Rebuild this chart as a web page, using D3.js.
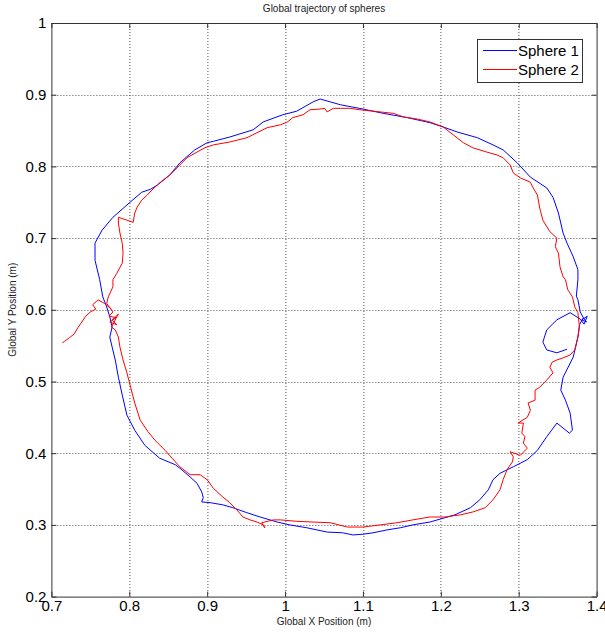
<!DOCTYPE html>
<html>
<head>
<meta charset="utf-8">
<script src="https://d3js.org/d3.v7.min.js"></script>
<style>
body { margin: 0; background: #fff; }
.axis text { font-family: Arial, "Liberation Sans", sans-serif; font-size: 15px; fill: #000; }
.axis path, .axis line { stroke: #333; }
</style>
</head>
<body>
<div id="chart-area"></div>
<script>
// tick values / labels
var xTicks = [0.7, 0.8, 0.9, 1.0, 1.1, 1.2, 1.3, 1.4];
var xTickLabels = ["0.7", "0.8", "0.9", "1", "1.1", "1.2", "1.3", "1.4"];
var yTicks = [0.2, 0.3, 0.4, 0.5, 0.6, 0.7, 0.8, 0.9, 1.0];
var yTickLabels = ["0.2", "0.3", "0.4", "0.5", "0.6", "0.7", "0.8", "0.9", "1"];

var seriesNames = ["Sphere 1", "Sphere 2"];
var seriesColors = ["#0000ff", "#ff0000"];

// Sphere 1 trajectory (m)
var sphere1X = [1.383, 1.379, 1.376, 1.374, 1.376, 1.376, 1.370, 1.362, 1.357, 1.351,
    1.344, 1.336, 1.315, 1.298, 1.280, 1.267, 1.247, 1.221, 1.203, 1.186,
    1.157, 1.126, 1.100, 1.071, 1.058, 1.045, 1.036, 1.015, 0.997, 0.972,
    0.959, 0.929, 0.908, 0.900, 0.884, 0.865, 0.852, 0.836, 0.827, 0.816,
    0.801, 0.779, 0.765, 0.756, 0.756, 0.762, 0.766, 0.771, 0.775, 0.778,
    0.775, 0.778, 0.782, 0.786, 0.791, 0.797, 0.807, 0.820, 0.839, 0.859,
    0.865, 0.878, 0.887, 0.893, 0.895, 0.893, 0.904, 0.920, 0.933, 0.951,
    0.968, 0.990, 1.006, 1.028, 1.054, 1.074, 1.087, 1.100, 1.113, 1.131,
    1.148, 1.164, 1.186, 1.218, 1.238, 1.250, 1.261, 1.267, 1.276, 1.293,
    1.311, 1.324, 1.336, 1.349, 1.365, 1.369, 1.366, 1.360, 1.354, 1.357,
    1.370, 1.376, 1.378, 1.383, 1.387, 1.381, 1.388, 1.384, 1.379, 1.366,
    1.349, 1.336, 1.331, 1.336, 1.349, 1.362];
var sphere1Y = [0.589, 0.597, 0.614, 0.619, 0.642, 0.656, 0.674, 0.693, 0.707, 0.735,
    0.757, 0.770, 0.785, 0.805, 0.823, 0.830, 0.840, 0.848, 0.855, 0.861,
    0.868, 0.874, 0.880, 0.886, 0.890, 0.894, 0.890, 0.877, 0.872, 0.862,
    0.851, 0.841, 0.835, 0.833, 0.823, 0.805, 0.788, 0.774, 0.768, 0.764,
    0.750, 0.729, 0.711, 0.693, 0.669, 0.642, 0.618, 0.604, 0.590, 0.576,
    0.562, 0.548, 0.530, 0.506, 0.481, 0.453, 0.432, 0.411, 0.393, 0.384,
    0.379, 0.367, 0.358, 0.346, 0.338, 0.332, 0.331, 0.328, 0.324, 0.317,
    0.311, 0.304, 0.300, 0.296, 0.290, 0.289, 0.286, 0.287, 0.289, 0.293,
    0.296, 0.300, 0.304, 0.314, 0.324, 0.335, 0.349, 0.363, 0.372, 0.381,
    0.391, 0.404, 0.423, 0.442, 0.428, 0.432, 0.456, 0.474, 0.488, 0.506,
    0.534, 0.562, 0.579, 0.589, 0.583, 0.586, 0.591, 0.580, 0.587, 0.596,
    0.586, 0.572, 0.555, 0.544, 0.540, 0.545];

// Sphere 2 trajectory (m)
var sphere2X = [0.714, 0.717, 0.723, 0.729, 0.734, 0.739, 0.744, 0.750, 0.757, 0.753,
    0.760, 0.768, 0.775, 0.779, 0.774, 0.783, 0.775, 0.784, 0.778, 0.786,
    0.777, 0.782, 0.786, 0.788, 0.792, 0.797, 0.801, 0.807, 0.814, 0.824,
    0.833, 0.846, 0.855, 0.865, 0.878, 0.891, 0.900, 0.908, 0.920, 0.929,
    0.938, 0.946, 0.955, 0.964, 0.972, 0.974, 0.970, 0.985, 0.994, 1.015,
    1.036, 1.058, 1.080, 1.100, 1.122, 1.144, 1.164, 1.186, 1.205, 1.225,
    1.241, 1.257, 1.267, 1.276, 1.280, 1.285, 1.292, 1.293, 1.289, 1.302,
    1.311, 1.306, 1.308, 1.304, 1.306, 1.299, 1.311, 1.315, 1.312, 1.321,
    1.321, 1.327, 1.336, 1.344, 1.340, 1.343, 1.349, 1.357, 1.366, 1.372,
    1.376, 1.378, 1.376, 1.372, 1.369, 1.363, 1.360, 1.357, 1.353, 1.351,
    1.347, 1.349, 1.340, 1.331, 1.327, 1.324, 1.318, 1.315, 1.302, 1.293,
    1.289, 1.280, 1.272, 1.259, 1.241, 1.229, 1.216, 1.203, 1.186, 1.170,
    1.152, 1.139, 1.122, 1.096, 1.083, 1.071, 1.062, 1.054, 1.051, 1.045,
    1.032, 1.023, 1.010, 1.003, 0.994, 0.977, 0.964, 0.951, 0.929, 0.908,
    0.897, 0.887, 0.874, 0.865, 0.852, 0.839, 0.829, 0.823, 0.816, 0.810,
    0.807, 0.805, 0.797, 0.786, 0.786, 0.788, 0.791, 0.792, 0.791, 0.784,
    0.779, 0.779, 0.773, 0.771, 0.777];
var sphere2Y = [0.554, 0.556, 0.561, 0.566, 0.575, 0.583, 0.591, 0.597, 0.601, 0.607,
    0.614, 0.609, 0.603, 0.597, 0.591, 0.589, 0.583, 0.579, 0.586, 0.594,
    0.576, 0.572, 0.562, 0.548, 0.530, 0.512, 0.495, 0.470, 0.446, 0.430,
    0.418, 0.404, 0.393, 0.381, 0.370, 0.370, 0.363, 0.351, 0.339, 0.331,
    0.321, 0.311, 0.307, 0.304, 0.300, 0.296, 0.303, 0.307, 0.307, 0.305,
    0.304, 0.303, 0.297, 0.297, 0.300, 0.303, 0.307, 0.311, 0.311, 0.314,
    0.318, 0.324, 0.335, 0.349, 0.363, 0.377, 0.388, 0.395, 0.402, 0.397,
    0.407, 0.414, 0.423, 0.428, 0.442, 0.442, 0.450, 0.460, 0.470, 0.474,
    0.488, 0.492, 0.502, 0.512, 0.520, 0.527, 0.530, 0.533, 0.537, 0.544,
    0.562, 0.576, 0.596, 0.604, 0.618, 0.628, 0.642, 0.646, 0.660, 0.679,
    0.688, 0.700, 0.709, 0.725, 0.742, 0.760, 0.771, 0.778, 0.784, 0.791,
    0.802, 0.812, 0.816, 0.820, 0.826, 0.833, 0.844, 0.855, 0.862, 0.866,
    0.869, 0.874, 0.876, 0.879, 0.881, 0.881, 0.881, 0.876, 0.881, 0.880,
    0.879, 0.872, 0.868, 0.862, 0.858, 0.854, 0.847, 0.840, 0.834, 0.830,
    0.826, 0.820, 0.812, 0.802, 0.788, 0.777, 0.767, 0.760, 0.753, 0.743,
    0.735, 0.722, 0.725, 0.729, 0.721, 0.707, 0.693, 0.679, 0.665, 0.651,
    0.642, 0.632, 0.618, 0.609, 0.600];

var margin = { left: 51.4, right: 8.4, top: 23, bottom: 35.4 };

var width = 605 - margin.left - margin.right,
    height = 632 - margin.top - margin.bottom;

var svgRoot = d3.select("#chart-area")
    .append("svg")
        .attr("width", 605)
        .attr("height", 632);

var svg = svgRoot.append("g")
        .attr("transform", "translate(" + margin.left + ", " + margin.top + ")");

var x = d3.scaleLinear().domain([0.7, 1.4]).range([0, width]);
var y = d3.scaleLinear().domain([0.2, 1.0]).range([height, 0]);

// dotted grid
svg.selectAll(".vgrid")
    .data(xTicks.slice(1, -1)).enter()
    .append("line")
        .attr("x1", function(d) { return Math.round(x(d)) + 0.5; })
        .attr("x2", function(d) { return Math.round(x(d)) + 0.5; })
        .attr("y1", 0)
        .attr("y2", height)
        .attr("stroke", "#555")
        .attr("stroke-dasharray", "1,2");

svg.selectAll(".hgrid")
    .data(yTicks.slice(1, -1)).enter()
    .append("line")
        .attr("y1", function(d) { return Math.round(y(d)) + 0.5; })
        .attr("y2", function(d) { return Math.round(y(d)) + 0.5; })
        .attr("x1", 0)
        .attr("x2", width)
        .attr("stroke", "#555")
        .attr("stroke-dasharray", "1,2");

// trajectories
var line = d3.line()
    .x(function(d) { return x(d[0]); })
    .y(function(d) { return y(d[1]); });

var series = [d3.zip(sphere1X, sphere1Y), d3.zip(sphere2X, sphere2Y)];

svg.selectAll(".traj")
    .data(series).enter()
    .append("path")
        .attr("d", line)
        .attr("fill", "none")
        .attr("stroke", function(d, i) { return seriesColors[i]; })
        .attr("stroke-width", 1)
        .attr("stroke-linejoin", "round");

// axes with inward ticks on all four sides
var xAxisCall = d3.axisBottom(x)
    .tickValues(xTicks)
    .tickFormat(function(d, i) { return xTickLabels[i]; })
    .tickSizeInner(-5)
    .tickSizeOuter(0)
    .tickPadding(4);

svg.append("g")
    .attr("class", "x axis")
    .attr("transform", "translate(0," + height + ")")
    .call(xAxisCall);

svg.append("g")
    .attr("class", "x axis")
    .call(d3.axisTop(x).tickValues(xTicks).tickFormat("").tickSizeInner(-5).tickSizeOuter(0));

var yAxisCall = d3.axisLeft(y)
    .tickValues(yTicks)
    .tickFormat(function(d, i) { return yTickLabels[i]; })
    .tickSizeInner(-5)
    .tickSizeOuter(0)
    .tickPadding(5);

svg.append("g")
    .attr("class", "y axis")
    .call(yAxisCall);

svg.append("g")
    .attr("class", "y axis")
    .attr("transform", "translate(" + width + ",0)")
    .call(d3.axisRight(y).tickValues(yTicks).tickFormat("").tickSizeInner(-5).tickSizeOuter(0));

// Title
svg.append("text")
    .attr("x", width / 2)
    .attr("y", -11)
    .attr("font-family", "Arial, 'Liberation Sans', sans-serif")
    .attr("font-size", "10px")
    .attr("fill", "#222")
    .attr("text-anchor", "middle")
    .text("Global trajectory of spheres");

// X Label
svg.append("text")
    .attr("x", width / 2)
    .attr("y", height + 28)
    .attr("font-family", "Arial, 'Liberation Sans', sans-serif")
    .attr("font-size", "10px")
    .attr("fill", "#222")
    .attr("text-anchor", "middle")
    .text("Global X Position (m)");

// Y Label
svg.append("text")
    .attr("x", -(height / 2))
    .attr("y", -35)
    .attr("font-family", "Arial, 'Liberation Sans', sans-serif")
    .attr("font-size", "10px")
    .attr("fill", "#222")
    .attr("text-anchor", "middle")
    .attr("transform", "rotate(-90)")
    .text("Global Y Position (m)");

// Legend
var legend = svgRoot.append("g")
    .attr("transform", "translate(477, 39)");

legend.append("rect")
    .attr("x", 0.5)
    .attr("y", 0.5)
    .attr("width", 105)
    .attr("height", 43)
    .attr("fill", "#fff")
    .attr("stroke", "#333");

seriesNames.forEach(function(name, i) {
    legend.append("line")
        .attr("x1", 6)
        .attr("x2", 40)
        .attr("y1", 11.5 + i * 19)
        .attr("y2", 11.5 + i * 19)
        .attr("stroke", seriesColors[i]);
    legend.append("text")
        .attr("x", 41)
        .attr("y", 11.5 + i * 19)
        .attr("dy", "0.35em")
        .attr("font-family", "Arial, 'Liberation Sans', sans-serif")
        .attr("font-size", "15px")
        .text(name);
});
</script>
</body>
</html>
